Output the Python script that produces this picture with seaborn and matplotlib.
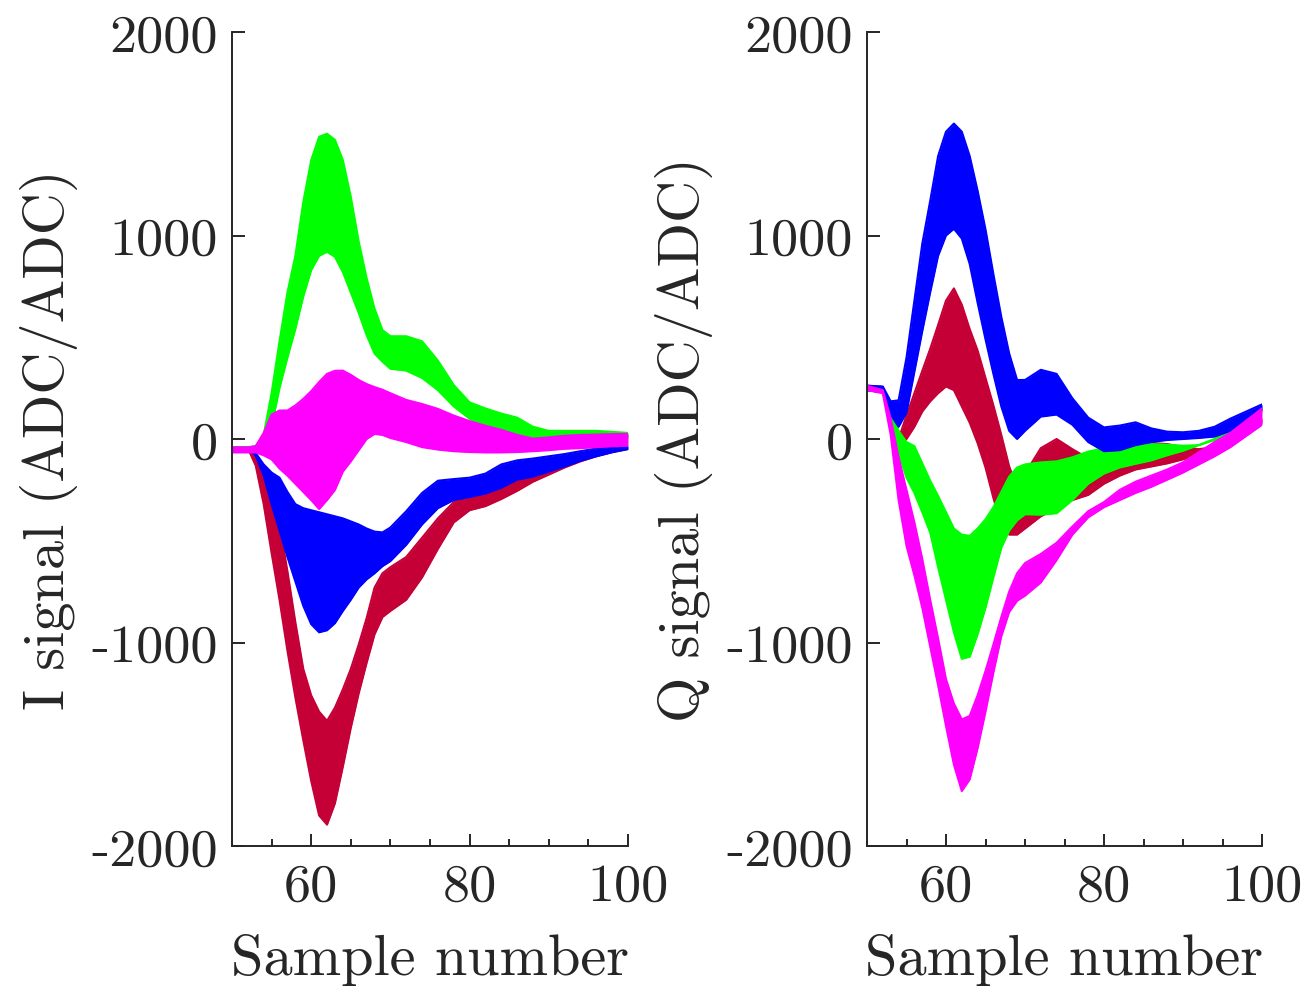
import matplotlib
matplotlib.use("Agg")
import matplotlib.pyplot as plt
import seaborn as sns
import pandas as pd
from matplotlib.ticker import MultipleLocator

# ---------------- data ----------------
samples = [50, 52, 53, 54, 55, 56, 57, 58, 59, 60, 61, 62, 63, 64, 65, 66, 67, 68, 69, 70,
           72, 74, 76, 78, 80, 82, 84, 86, 88, 90, 92, 94, 96, 98, 100]

# I signal: upper / lower envelopes of each group of traces
i_green_upper = [-41, -41, -35, 20, 225, 480, 720, 900, 1164, 1370, 1485, 1500, 1470, 1370, 1190,
                 970, 790, 640, 535, 505, 505, 480, 385, 265, 180, 150, 125, 105, 60, 40, 40, 40, 40, 35, 30]
i_green_lower = [-41, -41, -41, -35, 60, 250, 400, 540, 700, 830, 900, 920, 895, 820, 720,
                 620, 510, 420, 380, 345, 336, 300, 240, 160, 100, 55, 28, 8, 0, -5, -5, 0, 5, 5, 5]
i_magenta_upper = [-41, -41, -35, 30, 120, 140, 140, 165, 197, 235, 280, 320, 335, 336, 315,
                   290, 270, 255, 242, 225, 192, 172, 148, 115, 88, 65, 45, 20, 2, 8, 16, 20, 22, 24, 25]
i_magenta_lower = [-66, -66, -66, -80, -100, -145, -180, -220, -260, -300, -344, -300, -250, -160, -110,
                   -55, 0, 25, 20, 5, -15, -40, -52, -60, -64, -66, -66, -64, -60, -55, -48, -45, -40, -36, -33]
i_blue_upper = [-41, -41, -70, -125, -165, -190, -260, -320, -340, -350, -360, -370, -380, -390, -405,
                -420, -440, -455, -459, -435, -355, -265, -205, -197, -190, -170, -125, -105, -96, -85, -74, -60, -47, -40, -33]
i_blue_lower = [-41, -45, -82, -180, -320, -450, -580, -700, -820, -910, -950, -940, -905, -845, -790,
                -730, -690, -660, -625, -600, -520, -420, -340, -300, -285, -268, -240, -200, -185, -160, -135, -107, -85, -65, -49]
i_red_upper = [-41, -41, -80, -150, -250, -420, -650, -900, -1130, -1260, -1340, -1385, -1320, -1230, -1130,
               -1010, -880, -730, -660, -630, -580, -485, -390, -310, -270, -240, -215, -185, -160, -135, -110, -90, -72, -58, -45]
i_red_lower = [-41, -45, -131, -320, -560, -790, -1040, -1270, -1480, -1680, -1850, -1895, -1790, -1610, -1420,
               -1250, -1100, -960, -875, -845, -790, -680, -540, -410, -350, -330, -295, -255, -210, -175, -140, -110, -85, -65, -50]

# Q signal
q_blue_upper = [262, 258, 185, 190, 400, 680, 960, 1170, 1390, 1510, 1550, 1510, 1390, 1220, 1030,
                810, 600, 420, 290, 290, 340, 320, 200, 105, 57, 66, 82, 52, 36, 33, 40, 60, 100, 135, 170]
q_blue_lower = [240, 230, 120, 60, 130, 330, 530, 720, 900, 1000, 1033, 985, 860, 670, 490,
                320, 160, 40, 0, 40, 110, 120, 70, -15, -60, -55, -30, -15, -5, 0, 5, 12, 40, 90, 140]
q_red_upper = [262, 255, 120, 0, 115, 225, 335, 443, 560, 680, 740, 660, 540, 435, 300,
               165, 20, -135, -240, -170, -45, 0, -50, -95, -80, -50, -25, -20, -25, -40, -50, -40, -10, 40, 100]
q_red_lower = [240, 230, 100, -30, 0, 60, 135, 185, 225, 258, 240, 160, 80, -20, -140,
               -290, -420, -470, -470, -440, -380, -340, -300, -275, -220, -180, -150, -135, -120, -100, -80, -50, -10, 30, 80]
q_green_upper = [262, 255, 140, 40, -15, -35, -120, -205, -280, -360, -440, -470, -476, -440, -395,
                 -335, -260, -185, -140, -125, -115, -110, -90, -62, -45, -33, -28, -25, -28, -33, -30, 0, 50, 100, 160]
q_green_lower = [240, 230, 100, -70, -190, -265, -360, -460, -630, -790, -950, -1080, -1070, -960, -830,
                 -680, -535, -450, -400, -370, -372, -365, -300, -220, -170, -140, -122, -105, -80, -58, -30, -5, 30, 85, 135]
q_magenta_upper = [262, 240, 100, -90, -250, -410, -590, -790, -980, -1180, -1300, -1378, -1361, -1260, -1140,
                   -1010, -875, -750, -660, -610, -565, -510, -430, -355, -310, -250, -210, -180, -150, -115, -65, -15, 30, 90, 150]
q_magenta_lower = [240, 225, 20, -300, -525, -670, -830, -1020, -1210, -1410, -1600, -1730, -1673, -1520, -1340,
                   -1148, -970, -850, -795, -770, -705, -595, -470, -385, -335, -300, -265, -235, -200, -165, -125, -85, -40, 15, 70]

x_ticks = [60, 80, 100]
y_ticks = [-2000, -1000, 0, 1000, 2000]
y_tick_labels = ["-2000", "-1000", "0", "1000", "2000"]

colors = {"green": "#00FF00", "magenta": "#FF00FF", "blue": "#0000FF", "red": "#C40037"}

i_bands = [("red", i_red_upper, i_red_lower), ("blue", i_blue_upper, i_blue_lower),
           ("green", i_green_upper, i_green_lower), ("magenta", i_magenta_upper, i_magenta_lower)]
q_bands = [("red", q_red_upper, q_red_lower), ("green", q_green_upper, q_green_lower),
           ("blue", q_blue_upper, q_blue_lower), ("magenta", q_magenta_upper, q_magenta_lower)]

# ---------------- style ----------------
sns.set_style("ticks")
plt.rcParams["font.family"] = ["cmr10", "DejaVu Serif"]
plt.rcParams["mathtext.fontset"] = "cm"
plt.rcParams["axes.unicode_minus"] = False
plt.rcParams["axes.formatter.use_mathtext"] = True

W, H = 1306, 987
fig = plt.figure(figsize=(W / 100, H / 100), dpi=100)
ax1 = fig.add_axes([232 / W, 1 - 847 / H, 396 / W, 814 / H])
ax2 = fig.add_axes([867 / W, 1 - 847 / H, 395 / W, 814 / H])

ink = "#262626"


def draw(ax, bands, ylabel):
    for k, (name, up, lo) in enumerate(bands):
        c = colors[name]
        z = 2 + k
        ax.fill_between(samples, lo, up, color=c, lw=0, zorder=z)
        df = pd.DataFrame({
            "sample": samples * 2,
            "value": list(up) + list(lo),
            "edge": ["upper"] * len(samples) + ["lower"] * len(samples),
        })
        sns.lineplot(data=df, x="sample", y="value", units="edge", estimator=None,
                     color=c, lw=1.5, ax=ax, legend=False, zorder=z)
    ax.set_xlim(50, 100)
    ax.set_ylim(-2000, 2000)
    ax.set_xticks(x_ticks, labels=[str(t) for t in x_ticks])
    ax.set_yticks(y_ticks, labels=y_tick_labels)
    ax.xaxis.set_minor_locator(MultipleLocator(5))
    ax.tick_params(which="both", direction="in", colors=ink, width=1.4,
                   labelsize=39, labelcolor=ink)
    ax.tick_params(which="major", length=9)
    ax.tick_params(which="minor", length=5)
    ax.tick_params(axis="y", pad=10)
    ax.tick_params(axis="x", pad=12)
    for s in ["top", "right"]:
        ax.spines[s].set_visible(False)
    for s in ["left", "bottom"]:
        ax.spines[s].set_linewidth(1.4)
        ax.spines[s].set_color(ink)
        ax.spines[s].set_zorder(10)
    ax.set_xlabel("Sample number", fontsize=42, color=ink, labelpad=17)
    ax.set_ylabel(ylabel, fontsize=42, color=ink, labelpad=10)
    ax.set_facecolor("white")


draw(ax1, i_bands, "I signal (ADC/ADC)")
draw(ax2, q_bands, "Q signal (ADC/ADC)")

fig.savefig("out.png", dpi=100, facecolor="white")
